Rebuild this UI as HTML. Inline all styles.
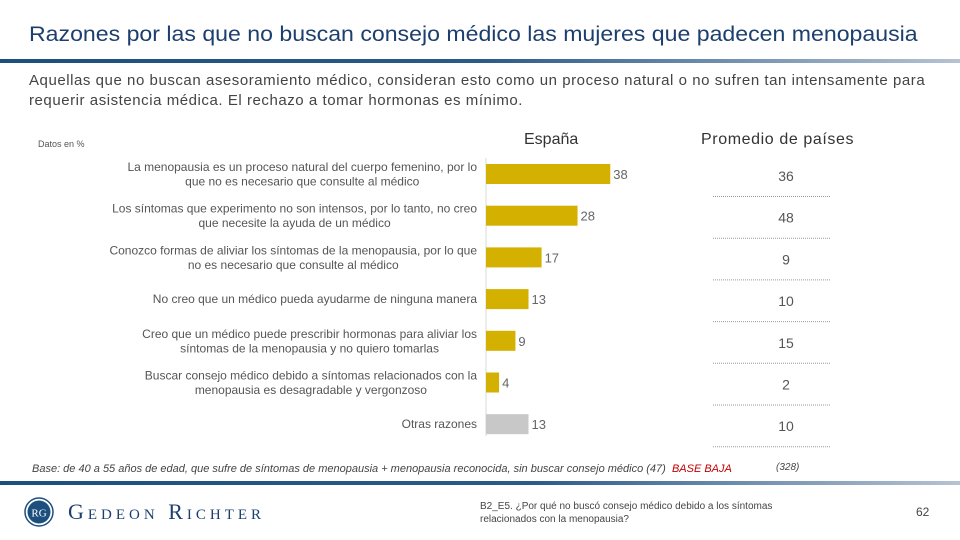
<!DOCTYPE html>
<html><head><meta charset="utf-8"><style>
body{margin:0;width:960px;height:540px;overflow:hidden;background:#fff;font-family:"Liberation Sans",sans-serif;position:relative}
.a{position:absolute}
</style></head><body>
<div class="a" style="left:29px;top:23px;font-size:21px;color:#1d3f6e;white-space:nowrap;transform-origin:0 0;transform:scaleX(1.1)">Razones por las que no buscan consejo médico las mujeres que padecen menopausia</div>
<div class="a" style="left:0;top:59px;width:960px;height:4px;background:linear-gradient(90deg,#1d4f7e 0%,#2a5a88 50%,#b5c3d3 100%)"></div>
<div class="a" style="left:29px;top:71px;font-size:15px;letter-spacing:0.55px;line-height:20px;color:#444;white-space:nowrap">Aquellas que no buscan asesoramiento médico, consideran esto como un proceso natural o no sufren tan intensamente para<br>requerir asistencia médica. El rechazo a tomar hormonas es mínimo.</div>
<div class="a" style="left:38px;top:139px;font-size:9px;color:#555">Datos en %</div>
<div class="a" style="left:524px;top:131px;font-size:16px;color:#333">España</div>
<div class="a" style="left:701px;top:131px;font-size:16px;letter-spacing:0.6px;color:#333">Promedio de países</div>
<svg class="a" style="left:0;top:0" width="960" height="540" id="chart"></svg>
<div class="a" style="left:32px;top:463px;font-size:11px;font-style:italic;color:#444;white-space:nowrap">Base: de 40 a 55 años de edad, que sufre de síntomas de menopausia + menopausia reconocida, sin buscar consejo médico (47) &nbsp;<span style="color:#c00000">BASE BAJA</span></div>
<div class="a" style="left:776px;top:462px;font-size:10px;font-style:italic;color:#444">(328)</div>
<div class="a" style="left:0;top:481px;width:960px;height:4px;background:linear-gradient(90deg,#1d4f7e 0%,#2a5a88 55%,#b5c3d3 100%)"></div>
<svg class="a" style="left:24px;top:496px" width="30" height="32"><circle cx="15" cy="16" r="14" fill="#fff" stroke="#1d4f7e" stroke-width="1.5"/><circle cx="15" cy="16" r="11.5" fill="#1d4f7e"/><text x="15" y="20.5" text-anchor="middle" font-size="11" font-family="Liberation Serif" fill="#fff">RG</text></svg>
<div class="a" style="left:68px;top:499px;font-family:'Liberation Serif',serif;font-size:22px;font-variant:small-caps;letter-spacing:4px;color:#1d3f6e;white-space:nowrap">Gedeon Richter</div>
<div class="a" style="left:480px;top:500px;font-size:10px;line-height:13px;color:#444;width:340px">B2_E5. ¿Por qué no buscó consejo médico debido a los síntomas relacionados con la menopausia?</div>
<div class="a" style="left:916px;top:505px;font-size:12px;color:#444">62</div>
<script>
const categories=[["La menopausia es un proceso natural del cuerpo femenino, por lo","que no es necesario que consulte al médico"],["Los síntomas que experimento no son intensos, por lo tanto, no creo","que necesite la ayuda de un médico"],["Conozco formas de aliviar los síntomas de la menopausia, por lo que","no es necesario que consulte al médico"],["No creo que un médico pueda ayudarme de ninguna manera"],["Creo que un médico puede prescribir hormonas para aliviar los","síntomas de la menopausia y no quiero tomarlas"],["Buscar consejo médico debido a síntomas relacionados con la","menopausia es desagradable y vergonzoso"],["Otras razones"]];
const spainValues=[38,28,17,13,9,4,13];
const averageValues=[36,48,9,10,15,2,10];
const NS="http://www.w3.org/2000/svg";
const svg=document.getElementById('chart');
const x0=486,pxPerUnit=3.27,y0=174,step=41.7,barH=20;
const xScale=v=>x0+v*pxPerUnit;
const yScale=i=>y0+i*step;
function mk(t,attrs){const e=document.createElementNS(NS,t);for(const k in attrs)e.setAttribute(k,attrs[k]);svg.appendChild(e);return e;}
const axis=mk('line',{x1:x0,x2:x0,y1:158,y2:436,stroke:'#d9d9d9','stroke-width':1});


categories.forEach((lines,i)=>{
  const cy=yScale(i);
  const t=mk('text',{x:477,'text-anchor':'end','font-size':12,fill:'#555','font-family':'Liberation Sans'});
  
  
  const y1=lines.length===2?cy-3:cy+4;
  lines.forEach((l,j)=>{const ts=document.createElementNS(NS,'tspan');ts.setAttribute('x',477);ts.setAttribute('y',y1+j*14.5);ts.textContent=l;t.appendChild(ts);});
  if(lines.length===2){const ts=t.childNodes;const w1=ts[1].getComputedTextLength();const w0=ts[0].getComputedTextLength();ts[1].setAttribute('x',477-(w0-w1)/2);}
  const b=mk('rect',{x:x0,y:cy-barH/2,width:xScale(spainValues[i])-x0,height:barH,fill:i===categories.length-1?'#c8c8c8':'#d4b000'});
  
  
  const v=mk('text',{x:xScale(spainValues[i])+3,y:cy+5,'font-size':13,fill:'#666','font-family':'Liberation Sans'});
  
  
  v.textContent=spainValues[i];
  const a=mk('text',{x:786,y:cy+7,'text-anchor':'middle','font-size':14,fill:'#555','font-family':'Liberation Sans'});
  
  
  a.textContent=averageValues[i];
  const d=mk('line',{x1:713,x2:830,y1:cy+22.5,y2:cy+22.5,stroke:'#999','stroke-width':1,'stroke-dasharray':'1 1'});
  
  
});
</script>
</body></html>
